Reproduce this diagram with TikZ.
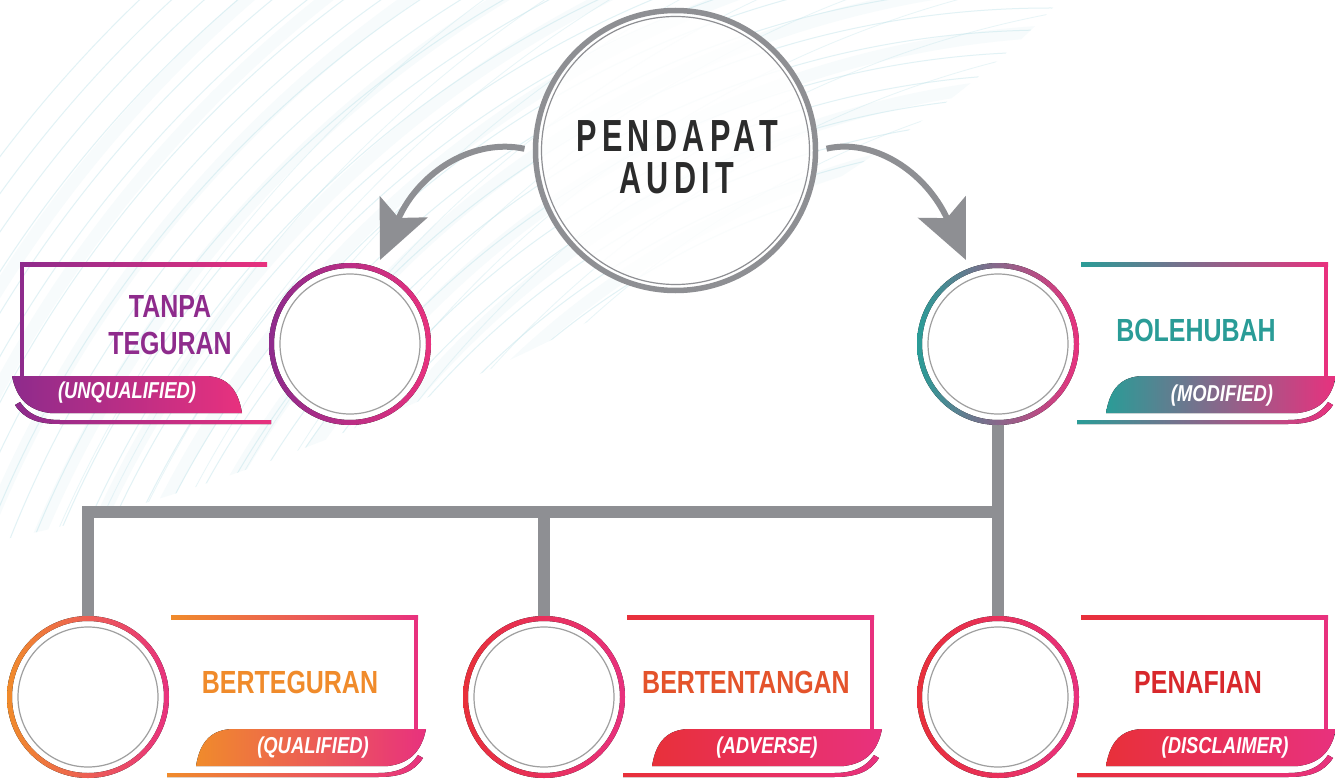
\documentclass[tikz,border=0pt]{standalone}
\usepackage{fontspec}
\setmainfont{Liberation Sans}
\newfontfamily\condf[FakeStretch=0.78]{Liberation Sans}
\newfontfamily\subf[FakeStretch=0.8]{Liberation Sans}
\newfontfamily\titlef[FakeStretch=0.68,LetterSpace=12]{Liberation Sans}
\usetikzlibrary{arrows.meta,calc}
\definecolor{cPurple}{HTML}{8E2B8C}
\definecolor{cPink}{HTML}{E8317E}
\definecolor{cTeal}{HTML}{2A9C97}
\definecolor{cOrange}{HTML}{F08B2B}
\definecolor{cRed}{HTML}{E8303A}
\definecolor{cRedTxt}{HTML}{E4532B}
\definecolor{cRedTwo}{HTML}{D8282C}
\definecolor{cGray}{HTML}{8E8F93}
\definecolor{cDark}{HTML}{2B2B2B}
\definecolor{cSwirl}{HTML}{BFE3EA}

% ring around a circle node: name, left colour, right colour
\newcommand\ringat[3]{%
  \fill[white] (#1.center) circle (78);
  \fill[left color=#2, right color=#3, even odd rule] (#1.center) circle (81) circle (76);
  \draw[innerline] (#1.center) circle (70);}

% bracket: cx, cy, side (+1 right, -1 left), shading left colour, shading right colour, bar colour
\newcommand\bracketbox[6]{%
  \fill[left color=#4, right color=#5] ({#1+#3*83},{#2-82}) rectangle ({#1+#3*330},{#2-78});
  \fill[#6] ({#1+#3*326},{#2-82}) rectangle ({#1+#3*330},{#2+34});
  \fill[left color=#4, right color=#5] ({#1+#3*146},{#2+32}) -- ({#1+#3*338},{#2+32})
     .. controls ({#1+#3*334},{#2+52}) and ({#1+#3*324},{#2+66}) .. ({#1+#3*300},{#2+69})
     -- ({#1+#3*108},{#2+69})
     .. controls ({#1+#3*112},{#2+44}) and ({#1+#3*124},{#2+32}) .. cycle;
  \fill[left color=#4, right color=#5] ({#1+#3*79},{#2+76}) -- ({#1+#3*290},{#2+76})
     .. controls ({#1+#3*310},{#2+76}) and ({#1+#3*322},{#2+70}) .. ({#1+#3*330},{#2+58})
     -- ({#1+#3*335},{#2+61})
     .. controls ({#1+#3*326},{#2+75}) and ({#1+#3*312},{#2+80}) .. ({#1+#3*290},{#2+80})
     -- ({#1+#3*79},{#2+80}) -- cycle;}

\begin{document}
\begin{tikzpicture}[x=1pt,y=-1pt,
  innerline/.style={draw=gray!75, line width=1.2pt},
  ringnode/.style={circle, minimum size=162pt, inner sep=0pt},
  tree/.style={draw=cGray, line width=12pt},
  arrowg/.style={draw=cGray, line width=6pt, -{Stealth[length=58pt,width=52pt,inset=12pt]}},
  headtxt/.style={font=\condf\bfseries\fontsize{32}{37}\selectfont, align=center},
  subtxt/.style={font=\subf\bfseries\itshape\fontsize{23}{26}\selectfont, text=white}]
\useasboundingbox (0,0) rectangle (1335,781);
\fill[white] (0,0) rectangle (1335,781);

% background swirls
\begin{scope}
  \clip (0,0) -- (1060,0) .. controls (880,200) and (350,470) .. (0,540) -- cycle;
  \foreach \r in {700,722,...,1320} \draw[cSwirl, line width=1pt, opacity=0.45] (1050,950) circle (\r);
  \foreach \r in {740,775,...,1300} \draw[cSwirl, line width=0.8pt, opacity=0.35] (1250,1050) circle (\r);
  \foreach \r in {800,850,...,1300} \draw[cSwirl, line width=12pt, opacity=0.12] (1100,980) circle (\r);
\end{scope}

% nodes
\node[circle, minimum size=286pt, inner sep=0pt] (main) at (675.5,150.5) {};
\node[ringnode] (c1) at (350,344) {};
\node[ringnode] (c2) at (998,344) {};
\node[ringnode] (c3) at (88,697) {};
\node[ringnode] (c4) at (544,697) {};
\node[ringnode] (c5) at (998,697) {};
\coordinate (hR) at (998,512);
\coordinate (tipL) at (380,260);
\coordinate (tipR) at (966,260);

% tree connectors
\draw[tree] (c2.center) -- (c5.center);
\draw[tree] (c3.center) |- (hR);
\draw[tree] (c4.center) -- (c4.center |- hR);

% arrows
\draw[arrowg, shorten <=8pt] (main.west) .. controls (475,138) and (420,170) .. (tipL);
\draw[arrowg, shorten <=8pt] (main.east) .. controls (872,138) and (925,170) .. (tipR);

% main circle
\fill[white, opacity=0.85] (main.center) circle (142);
\draw[cGray, line width=5.5pt] (main.center) circle (140);
\draw[cGray, line width=1.2pt] (main.center) circle (134);
\node[font=\titlef\bfseries\fontsize{45}{42}\selectfont, text=cDark, align=center] (title) at (677,157) {PENDAPAT\\AUDIT};

% rings
\ringat{c1}{cPurple}{cPink}
\ringat{c2}{cTeal}{cPink}
\ringat{c3}{cOrange}{cPink}
\ringat{c4}{cRed}{cPink}
\ringat{c5}{cRed}{cPink}

% brackets
\bracketbox{350}{344}{-1}{cPurple}{cPink}{cPurple}
\bracketbox{998}{344}{1}{cTeal}{cPink}{cPink}
\bracketbox{88}{697}{1}{cOrange}{cPink}{cPink}
\bracketbox{544}{697}{1}{cRed}{cPink}{cPink}
\bracketbox{998}{697}{1}{cRed}{cPink}{cPink}

% texts
\node[headtxt, text=cPurple] (t1) at (170,325) {TANPA\\TEGURAN};
\node[subtxt] (s1) at (127,393) {(UNQUALIFIED)};
\node[headtxt, text=cTeal] (t2) at (1196,330) {BOLEHUBAH};
\node[subtxt] (s2) at (1222,396) {(MODIFIED)};
\node[headtxt, text=cOrange] (t3) at (290,682) {BERTEGURAN};
\node[subtxt] (s3) at (313,748) {(QUALIFIED)};
\node[headtxt, text=cRedTxt] (t4) at (746,682) {BERTENTANGAN};
\node[subtxt] (s4) at (767,748) {(ADVERSE)};
\node[headtxt, text=cRedTwo] (t5) at (1198,682) {PENAFIAN};
\node[subtxt] (s5) at (1225,748) {(DISCLAIMER)};
\end{tikzpicture}
\end{document}
